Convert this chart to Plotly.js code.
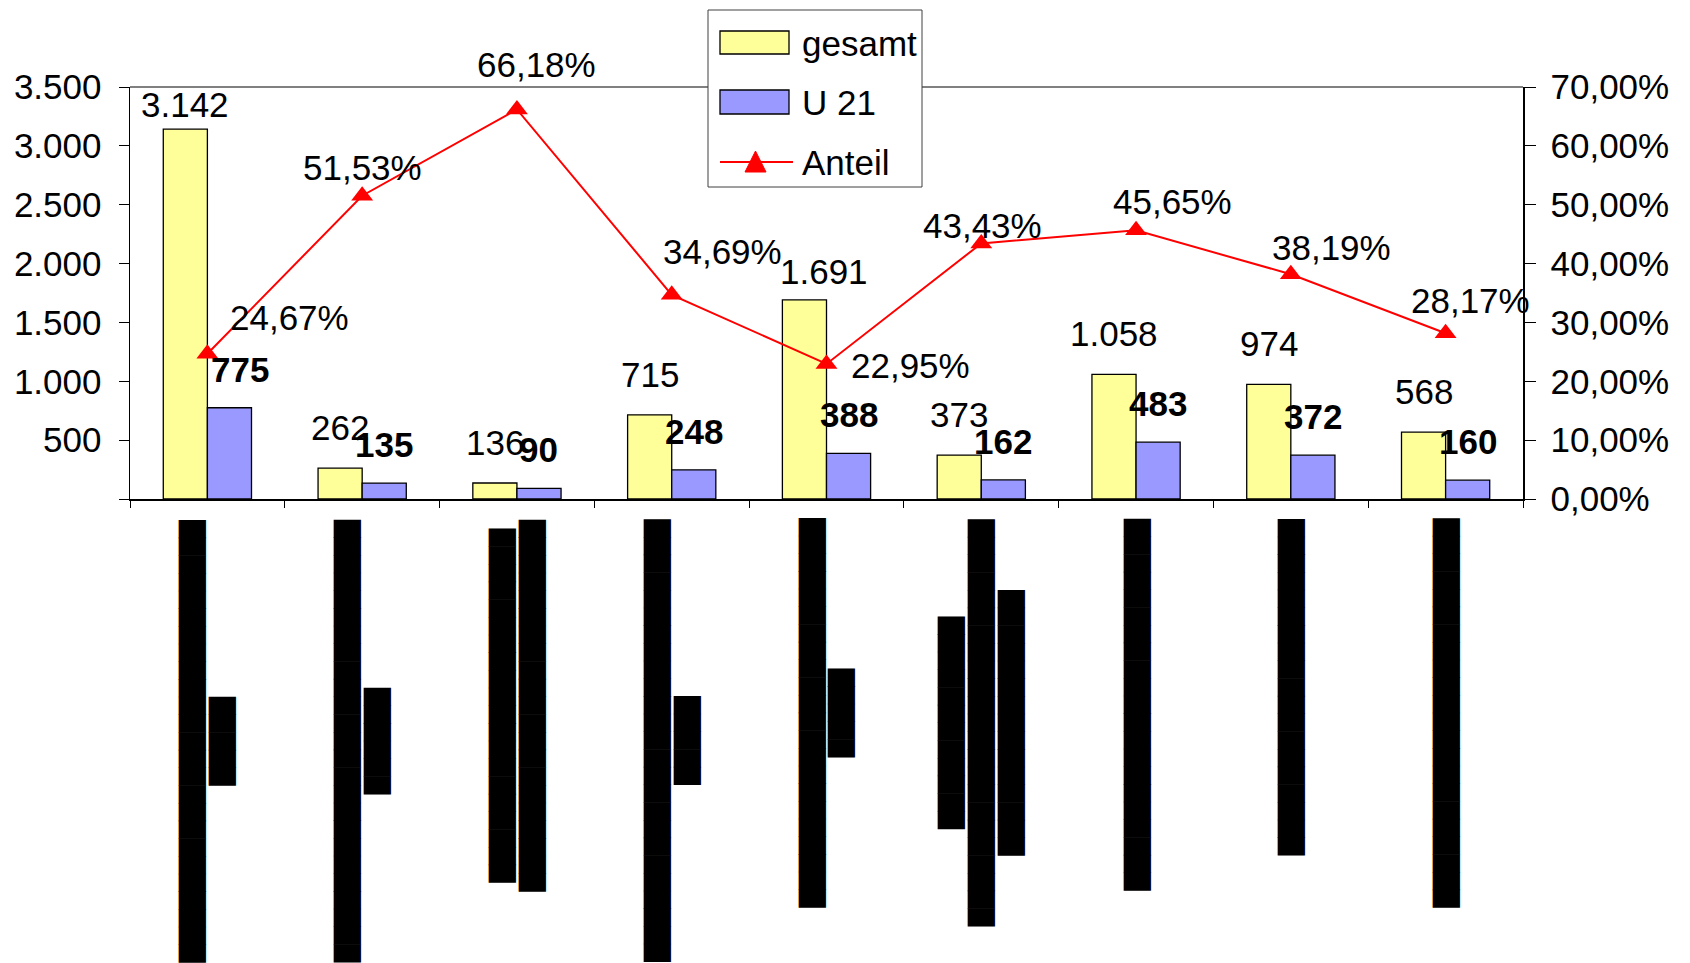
<!DOCTYPE html>
<html><head><meta charset="utf-8">
<script src="https://cdn.plot.ly/plotly-3.0.1.min.js"></script>
<style>html,body{margin:0;padding:0;background:#fff}#chart{width:1690px;height:963px}</style>
</head><body><div id="chart"></div>
<script>
// Category labels (unreadable in the source, rendered as solid blocks)
const categories = [
  '██████████' + '██████████' + '█████' + '<br>' + '█████',
  '██████████' + '██████████' + '█████' + '<br>' + '██████',
  '██████████' + '██████████' + '<br>' + '██████████' + '██████████' + '█',
  '██████████' + '██████████' + '█████' + '<br>' + '█████',
  '██████████' + '██████████' + '██' + '<br>' + '█████',
  '██████████' + '██' + '<br>' + '██████████' + '██████████' + '███' + '<br>' + '██████████' + '█████',
  '██████████' + '██████████' + '█',
  '██████████' + '█████████',
  '██████████' + '██████████' + '██'
];
const categoryKeys = ['K1', 'K2', 'K3', 'K4', 'K5', 'K6', 'K7', 'K8', 'K9'];
const gesamt = [3142, 262, 136, 715, 1691, 373, 1058, 974, 568];
const u21 = [775, 135, 90, 248, 388, 162, 483, 372, 160];
const anteil = [24.67, 51.53, 66.18, 34.69, 22.95, 43.43, 45.65, 38.19, 28.17];
const leftTicks = [0, 500, 1000, 1500, 2000, 2500, 3000, 3500];
const rightTicks = [0, 10, 20, 30, 40, 50, 60, 70];
const seriesNames = ['gesamt', 'U 21', 'Anteil'];
const seriesColors = ['#FFFF99', '#9999FF', '#FF0000'];

// label placement nudges [dx, dy] in px (dy positive = down)
const gesamtLabelNudge = [[0, 16], [0, 0], [0, 0], [0, 0], [19, 12], [0, 0], [0, 0], [0, 0], [0, 0]];
const u21LabelNudge = [[11, 0], [0, 0], [0, 0], [0, 0], [0, 0], [0, 0], [0, 0], [0, 0], [0, 0]];
const pctLabelNudge = [[82, -36], [0, -28], [20, -45], [51, -43], [84, 2], [1, -18], [36, -29], [41, -27], [25, -33]];

function fmtInt(n) { return String(n).replace(/\B(?=(\d{3})+(?!\d))/g, '.'); }
function fmtPct(v) { return v.toFixed(2).replace('.', ',') + '%'; }

const FONT = 'Liberation Sans, Arial, sans-serif';
const FS = 35;
const half = 22;

// plot area in pixels
const W = 1690, H = 963, L = 130, R = 167, T = 87, B = 464;
const PW = W - L - R, PH = H - T - B;
const px = v => (v - L) / PW;          // pixel x -> paper x
const py = v => (H - B - v) / PH;      // pixel y -> paper y

const traces = [
  {type: 'bar', name: seriesNames[0], x: categoryKeys, y: gesamt, showlegend: false,
   marker: {color: seriesColors[0], line: {color: '#000', width: 1.3}}, hoverinfo: 'skip'},
  {type: 'bar', name: seriesNames[1], x: categoryKeys, y: u21, showlegend: false,
   marker: {color: seriesColors[1], line: {color: '#000', width: 1.3}}, hoverinfo: 'skip'},
  {type: 'scatter', mode: 'lines+markers', name: seriesNames[2], x: categoryKeys, y: anteil, yaxis: 'y2', showlegend: false,
   line: {color: seriesColors[2], width: 2}, marker: {symbol: 'triangle-up', size: 19, color: seriesColors[2]}, hoverinfo: 'skip'}
];

const annotations = [];
categoryKeys.forEach((k, i) => {
  annotations.push({xref: 'x', yref: 'y', x: k, y: gesamt[i], xshift: -half + gesamtLabelNudge[i][0], yshift: 19 - gesamtLabelNudge[i][1],
    text: fmtInt(gesamt[i]), showarrow: false, xanchor: 'center', yanchor: 'bottom',
    font: {family: FONT, size: FS, color: '#000'}});
  annotations.push({xref: 'x', yref: 'y', x: k, y: u21[i], xshift: half + u21LabelNudge[i][0], yshift: 17 - u21LabelNudge[i][1],
    text: '<b>' + fmtInt(u21[i]) + '</b>', showarrow: false, xanchor: 'center', yanchor: 'bottom',
    font: {family: FONT, size: FS, color: '#000'}});
  annotations.push({xref: 'x', yref: 'y2', x: k, y: anteil[i], xshift: pctLabelNudge[i][0], yshift: -pctLabelNudge[i][1],
    text: fmtPct(anteil[i]), showarrow: false, xanchor: 'center', yanchor: 'middle',
    font: {family: FONT, size: FS, color: '#000'}});
  annotations.push({xref: 'x', yref: 'paper', x: k, y: 0, yshift: -18, textangle: -90,
    text: categories[i], showarrow: false, xanchor: 'center', yanchor: 'top', align: 'center',
    font: {family: 'DejaVu Sans', size: 23, color: '#000'}});
});

// custom legend (box, swatches, texts)
const shapes = [
  {type: 'line', xref: 'paper', yref: 'paper', x0: 0, x1: 1, y0: 1, y1: 1, line: {color: '#808080', width: 2}, layer: 'above'},
  {type: 'rect', xref: 'paper', yref: 'paper', x0: px(708), x1: px(922), y0: py(187), y1: py(10),
   line: {color: '#404040', width: 1}, fillcolor: '#fff', layer: 'above'},
  {type: 'rect', xref: 'paper', yref: 'paper', x0: px(720), x1: px(789), y0: py(54), y1: py(31),
   line: {color: '#000', width: 1.3}, fillcolor: seriesColors[0], layer: 'above'},
  {type: 'rect', xref: 'paper', yref: 'paper', x0: px(720), x1: px(789), y0: py(114), y1: py(90),
   line: {color: '#000', width: 1.3}, fillcolor: seriesColors[1], layer: 'above'},
  {type: 'line', xref: 'paper', yref: 'paper', x0: px(720), x1: px(793), y0: py(162), y1: py(162),
   line: {color: seriesColors[2], width: 2}, layer: 'above'},
  {type: 'path', xref: 'paper', yref: 'paper',
   path: 'M' + px(745) + ',' + py(172) + ' L' + px(766) + ',' + py(172) + ' L' + px(755.5) + ',' + py(151) + ' Z',
   line: {color: seriesColors[2], width: 1}, fillcolor: seriesColors[2], layer: 'above'}
];
const legendY = [43, 102, 162];
seriesNames.forEach((n, i) => {
  annotations.push({xref: 'paper', yref: 'paper', x: px(800), y: py(legendY[i]), text: n, showarrow: false,
    xanchor: 'left', yanchor: 'middle', font: {family: FONT, size: FS, color: '#000'}});
});

const layout = {
  width: W, height: H,
  margin: {l: L, r: R, t: T, b: B, pad: 0},
  paper_bgcolor: '#fff', plot_bgcolor: '#fff',
  separators: ',.',
  barmode: 'group', bargap: 0.43, bargroupgap: 0,
  font: {family: FONT, size: FS, color: '#000'},
  showlegend: false,
  xaxis: {type: 'category', range: [-0.5, categoryKeys.length - 0.5], showline: true, linecolor: '#000', linewidth: 1.5,
    ticks: 'outside', tickson: 'boundaries', ticklen: 7, tickcolor: '#000', tickwidth: 1,
    showticklabels: false, showgrid: false, zeroline: false, fixedrange: true},
  yaxis: {range: [0, 3500], tickvals: leftTicks, ticktext: leftTicks.map(v => v === 0 ? '' : fmtInt(v)),
    ticks: 'outside', ticklen: 10, tickcolor: '#000', tickwidth: 1, showline: true, linecolor: '#000', linewidth: 1.5,
    showgrid: false, zeroline: false, ticklabelstandoff: 10, tickfont: {family: FONT, size: FS, color: '#000'}, fixedrange: true},
  yaxis2: {overlaying: 'y', side: 'right', anchor: 'x', range: [0, 70], tickvals: rightTicks,
    ticktext: rightTicks.map(fmtPct), ticks: 'outside', ticklen: 11, tickcolor: '#000', tickwidth: 1,
    showline: true, linecolor: '#000', linewidth: 1.5, showgrid: false, zeroline: false, ticklabelstandoff: 8,
    tickfont: {family: FONT, size: FS, color: '#000'}, fixedrange: true},
  yaxis3: {overlaying: 'y', side: 'left', anchor: 'x', range: [0, 3500], tickvals: leftTicks,
    ticks: 'inside', ticklen: 11, tickcolor: '#000', showticklabels: false, showline: false, showgrid: false, zeroline: false},
  yaxis4: {overlaying: 'y', side: 'right', anchor: 'x', range: [0, 70], tickvals: rightTicks,
    ticks: 'inside', ticklen: 11, tickcolor: '#000', showticklabels: false, showline: false, showgrid: false, zeroline: false},
  shapes: shapes,
  annotations: annotations
};

Plotly.newPlot('chart', traces, layout, {displayModeBar: false, staticPlot: true});
</script>
</body></html>
